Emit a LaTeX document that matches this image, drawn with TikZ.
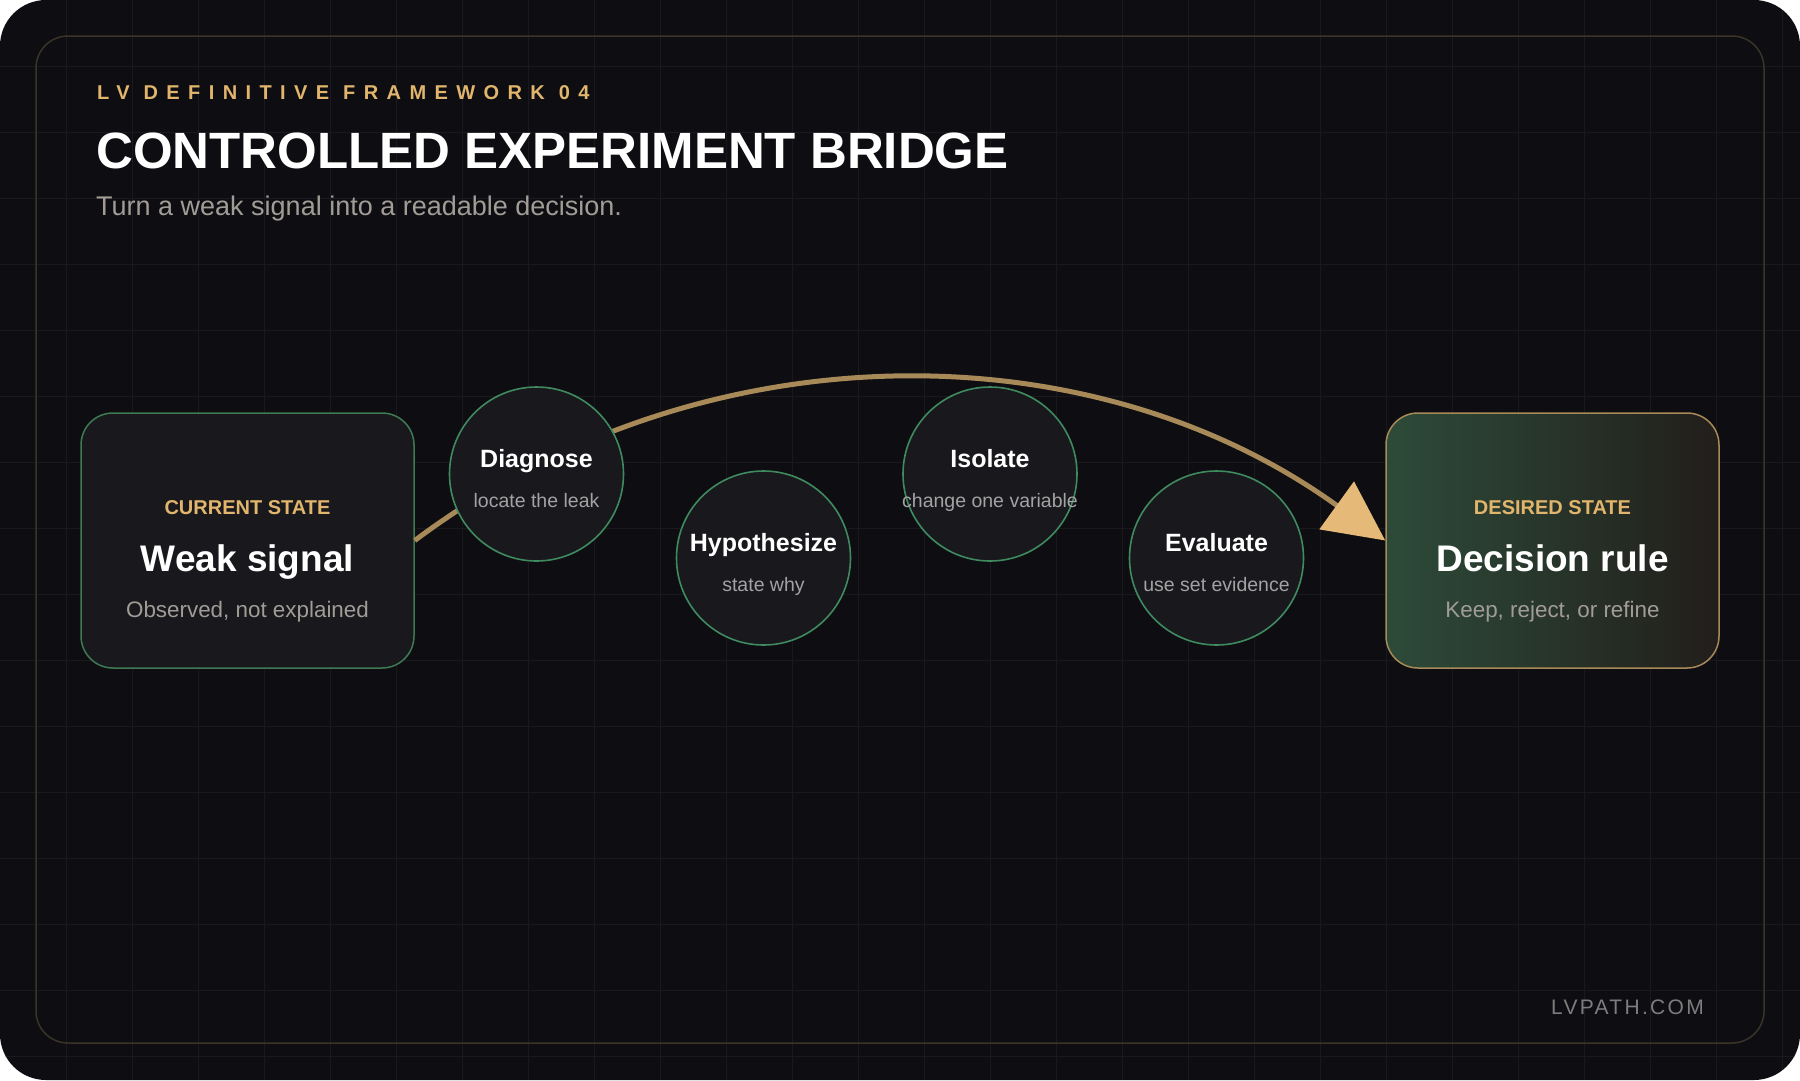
\documentclass[tikz,border=0pt]{standalone}
\usepackage{fontspec}
\setmainfont{Liberation Sans}
\usetikzlibrary{arrows.meta}

\definecolor{bgdark}{HTML}{0E0E12}
\definecolor{gridcol}{HTML}{19191E}
\definecolor{framecol}{HTML}{3A3328}
\definecolor{kickgold}{HTML}{E2B56C}
\definecolor{subgray}{HTML}{A19D96}
\definecolor{boxfill}{HTML}{18181D}
\definecolor{boxgreen}{HTML}{3E7A52}
\definecolor{circgreen}{HTML}{3F8A5E}
\definecolor{notegray}{HTML}{A3A3A3}
\definecolor{arcgold}{HTML}{A88A58}
\definecolor{headgold}{HTML}{E5B978}
\definecolor{decgreen}{HTML}{2D4B39}
\definecolor{decbrown}{HTML}{221E1B}
\definecolor{footgray}{HTML}{7D7D7D}

\tikzset{
  statebox/.style={draw=boxgreen, line width=1.5pt, fill=boxfill, rounded corners=32pt,
    minimum width=333pt, minimum height=255pt, inner sep=0pt},
  stepcirc/.style={circle, draw=circgreen, line width=1.6pt, fill=boxfill,
    minimum size=174pt, inner sep=0pt},
  tagtext/.style={text=kickgold, font=\fontsize{20}{24}\selectfont\bfseries, anchor=base},
  bigtext/.style={text=white, font=\fontsize{37}{44}\selectfont\bfseries, anchor=base},
  subtext/.style={text=subgray, font=\fontsize{22.4}{26}\selectfont, anchor=base},
  steptitle/.style={text=white, font=\fontsize{25}{30}\selectfont\bfseries, anchor=base},
  stepnote/.style={text=notegray, font=\fontsize{19.5}{24}\selectfont, anchor=base},
  bridge/.style={draw=arcgold, line width=5pt,
    -{Triangle[length=60pt,width=58pt,color=headgold]}},
}

\begin{document}
\begin{tikzpicture}[x=1pt, y=-1pt]
    \useasboundingbox (0,0) rectangle (1800,1080);
    % Card
    \fill[white] (0,0) rectangle (1800,1080);
    \fill[bgdark, rounded corners=46pt] (0,0) rectangle (1800,1080);

    % Grid
    \begin{scope}
        \clip[rounded corners=46pt] (0,0) rectangle (1800,1080);
        \foreach \k in {1,...,27} {
            \draw[gridcol, line width=1pt] (\k*66,0) -- (\k*66,1080);
        }
        \foreach \k in {1,...,16} {
            \draw[gridcol, line width=1pt] (0,\k*66) -- (1800,\k*66);
        }
    \end{scope}
    \draw[framecol, line width=1.5pt, rounded corners=32pt] (36,36) rectangle (1764,1043);

    % Heading
    \node[anchor=base west, inner sep=0pt, text=kickgold,
          font=\fontsize{20}{24}\selectfont\bfseries\addfontfeature{LetterSpace=42}]
          (kicker) at (97,99) {LV DEFINITIVE FRAMEWORK 04};
    \node[anchor=base west, inner sep=0pt, text=white,
          font=\fontsize{51}{60}\selectfont\bfseries]
          (title) at (96,168) {CONTROLLED EXPERIMENT BRIDGE};
    \node[anchor=base west, inner sep=0pt, text=subgray,
          font=\fontsize{27}{32}\selectfont]
          (subtitle) at (96,215) {Turn a weak signal into a readable decision.};

    % States
    \node[statebox] (cur) at (247.5,540.5) {};
    \node[tagtext] (curtag) at (247.5,514) {CURRENT STATE};
    \node[bigtext] (curname) at (247.5,571) {Weak signal};
    \node[subtext] (curnote) at (247.5,617) {Observed, not explained};

    \node[statebox, draw=arcgold, left color=decgreen, right color=decbrown] (dec) at (1552.5,540.5) {};
    \node[tagtext] (dectag) at (1552.5,514) {DESIRED STATE};
    \node[bigtext] (decname) at (1552.5,571) {Decision rule};
    \node[subtext] (decnote) at (1552.5,617) {Keep, reject, or refine};

    % Bridge arc
    \draw[bridge] (cur.east) .. controls (700,327) and (1090,327) .. (dec.west);

    % Steps
    \node[stepcirc] (diag) at (536.5,474) {};
    \node[steptitle] (diagname) at (536.5,467) {Diagnose};
    \node[stepnote] (diagnote) at (536.5,507) {locate the leak};

    \node[stepcirc] (hyp) at (763.5,558) {};
    \node[steptitle] (hypname) at (763.5,551) {Hypothesize};
    \node[stepnote] (hypnote) at (763.5,591) {state why};

    \node[stepcirc] (iso) at (990,474) {};
    \node[steptitle] (isoname) at (990,467) {Isolate};
    \node[stepnote] (isonote) at (990,507) {change one variable};

    \node[stepcirc] (eval) at (1216.5,558) {};
    \node[steptitle] (evalname) at (1216.5,551) {Evaluate};
    \node[stepnote] (evalnote) at (1216.5,591) {use set evidence};

    % Footer
    \node[anchor=base east, inner sep=0pt, text=footgray,
          font=\fontsize{21}{25}\selectfont\addfontfeature{LetterSpace=11}]
          (site) at (1704,1014) {LVPATH.COM};
\end{tikzpicture}
\end{document}
